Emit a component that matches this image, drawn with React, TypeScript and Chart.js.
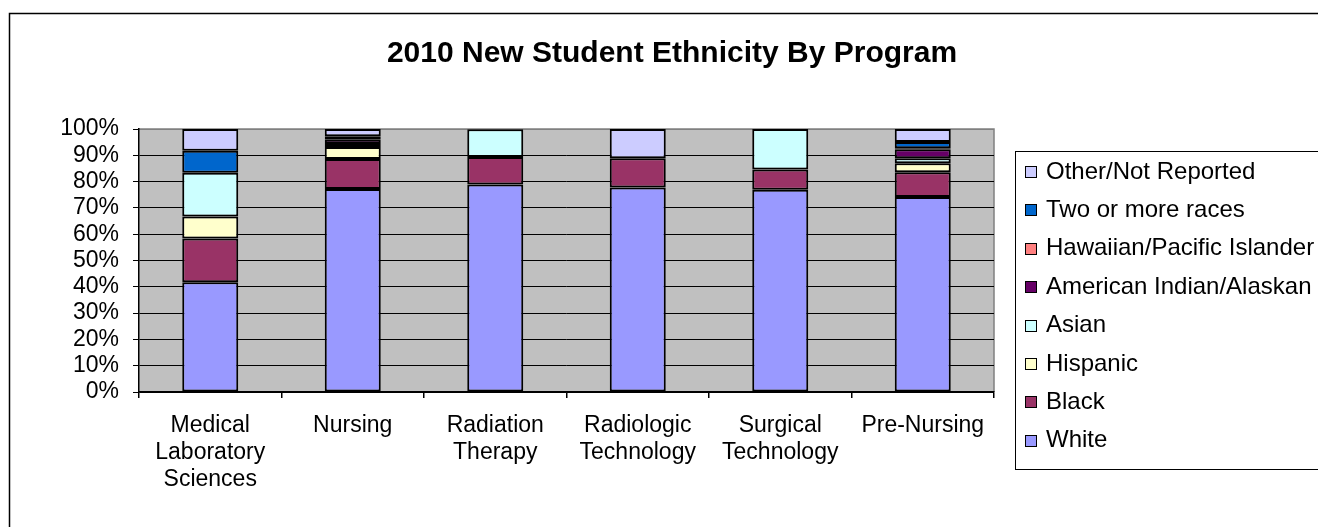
import React, { useEffect, useRef } from "react";
import { Chart, registerables } from "chart.js";

Chart.register(...registerables);

const categories: (string | string[])[] = [
  ["Medical", "Laboratory", "Sciences"],
  "Nursing",
  ["Radiation", "Therapy"],
  ["Radiologic", "Technology"],
  ["Surgical", "Technology"],
  "Pre-Nursing",
];

const white = [41.7, 77.2, 78.9, 77.8, 76.9, 74.1];
const black = [16.7, 11.4, 10.5, 11.1, 7.7, 9.5];
const hispanic = [8.3, 4.6, 0, 0, 0, 3.4];
const asian = [16.7, 1.1, 10.5, 0, 15.4, 1.9];
const americanIndian = [0, 1.6, 0, 0, 0, 3.4];
const hawaiian = [0, 0.3, 0, 0, 0, 0.4];
const twoOrMore = [8.3, 1.0, 0, 0, 0, 2.4];
const other = [8.3, 2.8, 0, 11.1, 0, 4.9];

const seriesNames = [
  "White",
  "Black",
  "Hispanic",
  "Asian",
  "American Indian/Alaskan",
  "Hawaiian/Pacific Islander",
  "Two or more races",
  "Other/Not Reported",
];
const seriesColors = ["#9999FF", "#993366", "#FFFFCC", "#CCFFFF", "#660066", "#FF8080", "#0066CC", "#CCCCFF"];
const seriesValues = [white, black, hispanic, asian, americanIndian, hawaiian, twoOrMore, other];

const yTicks = [0, 10, 20, 30, 40, 50, 60, 70, 80, 90, 100];

const FONT = "'Liberation Sans', Arial, sans-serif";

const decorPlugin = {
  id: "decor",
  beforeDraw(chart: any) {
    const { ctx, chartArea } = chart;
    ctx.save();
    ctx.fillStyle = "#ffffff";
    ctx.fillRect(0, 0, chart.width, chart.height);
    // outer frame
    ctx.strokeStyle = "#000";
    ctx.lineWidth = 1.5;
    ctx.strokeRect(9.5, 13.5, chart.width + 50, chart.height + 50);
    // plot background
    ctx.fillStyle = "#C0C0C0";
    ctx.fillRect(chartArea.left, chartArea.top, chartArea.right - chartArea.left, chartArea.bottom - chartArea.top);
    ctx.strokeStyle = "#808080";
    ctx.lineWidth = 1.5;
    ctx.beginPath();
    ctx.moveTo(chartArea.left, chartArea.top);
    ctx.lineTo(chartArea.right, chartArea.top);
    ctx.lineTo(chartArea.right, chartArea.bottom);
    ctx.stroke();
    // title
    ctx.fillStyle = "#000";
    ctx.font = `bold 30px ${FONT}`;
    ctx.textAlign = "center";
    ctx.textBaseline = "middle";
    ctx.fillText("2010 New Student Ethnicity By Program", 672, 54);
    ctx.restore();
  },
  afterDraw(chart: any) {
    const { ctx } = chart;
    ctx.save();
    // legend box
    ctx.fillStyle = "#fff";
    ctx.fillRect(1015, 151, 400, 318);
    ctx.strokeStyle = "#000";
    ctx.lineWidth = 1;
    ctx.strokeRect(1015.5, 151.5, 400, 318);
    const ds = chart.data.datasets;
    const n = ds.length;
    ctx.font = `24px ${FONT}`;
    ctx.textAlign = "left";
    ctx.textBaseline = "middle";
    for (let k = 0; k < n; k++) {
      const d = ds[n - 1 - k];
      const cy = 171 + k * 38.4;
      ctx.fillStyle = d.backgroundColor;
      ctx.fillRect(1025, Math.round(cy - 5), 11, 11);
      ctx.strokeStyle = "#000";
      ctx.lineWidth = 1;
      ctx.strokeRect(1025.5, Math.round(cy - 5) + 0.5, 11, 11);
      ctx.fillStyle = "#000";
      ctx.fillText(d.label, 1046, cy + 1);
    }
    ctx.restore();
  },
};

export default function App() {
  const ref = useRef<HTMLCanvasElement>(null);

  useEffect(() => {
    if (!ref.current) return;
    const chart = new Chart(ref.current, {
      type: "bar",
      data: {
        labels: categories,
        datasets: seriesNames.map((name, i) => ({
          label: name,
          data: seriesValues[i].map((v) => (v === 0 ? null : v)),
          backgroundColor: seriesColors[i],
          borderColor: "#000",
          borderWidth: 2,
          borderSkipped: false,
          categoryPercentage: 1,
          barPercentage: 0.393,
        })),
      },
      options: {
        animation: false,
        responsive: false,
        devicePixelRatio: 1,
        layout: { padding: { top: 129, right: 324, left: 0, bottom: 0 } },
        plugins: {
          legend: { display: false },
          title: { display: false },
          tooltip: { enabled: false },
        },
        scales: {
          x: {
            stacked: true,
            afterFit: (s: any) => {
              s.height = 135;
            },
            border: { display: true, color: "#000", width: 1.5 },
            grid: {
              offset: true,
              drawOnChartArea: false,
              drawTicks: true,
              tickLength: 6,
              tickColor: "#000",
              lineWidth: 1.5,
            },
            ticks: {
              color: "#000",
              font: { family: FONT, size: 23, lineHeight: 1.17 },
              padding: 14,
              maxRotation: 0,
              autoSkip: false,
            },
          },
          y: {
            stacked: true,
            min: 0,
            max: 100,
            afterFit: (s: any) => {
              s.width = 139;
            },
            afterBuildTicks: (s: any) => {
              s.ticks = yTicks.map((v) => ({ value: v }));
            },
            border: { display: true, color: "#000", width: 1.5 },
            grid: {
              color: (c: any) => (c.tick && c.tick.value === 100 ? "#808080" : "#000"),
              lineWidth: 1,
              tickLength: 6,
              tickColor: "#000",
            },
            ticks: {
              color: "#000",
              font: { family: FONT, size: 23 },
              padding: 14,
              autoSkip: false,
              callback: (v: any) => `${v}%`,
            },
          },
        },
      },
      plugins: [decorPlugin],
    });
    return () => chart.destroy();
  }, []);

  return (
    <div style={{ position: "fixed", left: 0, top: 0, width: 1318, height: 527, background: "#fff" }}>
      <canvas ref={ref} width={1318} height={527} style={{ width: 1318, height: 527, display: "block" }} />
    </div>
  );
}
